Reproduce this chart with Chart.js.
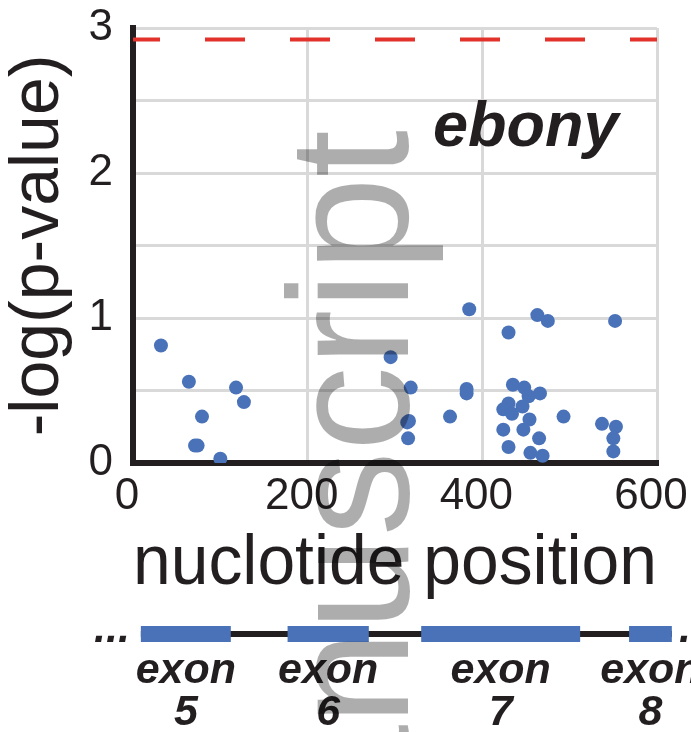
<!DOCTYPE html>
<html lang="en">
<head>
    <meta charset="UTF-8">
    <title>ebony association scan</title>
    <script src="https://cdn.jsdelivr.net/npm/chart.js"></script>
    <style>
        html, body {
            margin: 0;
            padding: 0;
            background: #fff;
        }
        #wrap {
            position: relative;
            width: 691px;
            height: 732px;
            overflow: hidden;
        }
    </style>
</head>
<body>
    <div id="wrap">
        <canvas id="plot" width="691" height="732"></canvas>
    </div>

    <script>
        // SNP positions (nucleotide) and -log(p-value)
        const snpPos = [32, 64, 79, 71, 74, 100, 118, 127,
                        295, 318, 314, 316, 315, 363, 382, 382, 385,
                        430, 463, 475, 552, 435, 448, 453, 466, 430,
                        424, 434, 446, 454, 447, 424, 465, 430, 455,
                        469, 493, 537, 553, 550, 550];
        const snpLogP = [0.81, 0.56, 0.32, 0.12, 0.12, 0.03, 0.52, 0.42,
                         0.73, 0.52, 0.28, 0.29, 0.17, 0.32, 0.51, 0.48, 1.06,
                         0.90, 1.02, 0.98, 0.98, 0.54, 0.52, 0.46, 0.48, 0.41,
                         0.37, 0.34, 0.39, 0.30, 0.23, 0.23, 0.17, 0.11, 0.07,
                         0.05, 0.32, 0.27, 0.25, 0.17, 0.08];
        const threshold = 2.92;
        const geneName = 'ebony';

        // gene model under the axis, in nucleotide units
        const exonNames = ['5', '6', '7', '8'];
        const exonStart = [9, 177, 330, 568];
        const exonEnd = [112, 270, 512, 617];

        const ink = '#231f20';
        const font = '"Liberation Sans", Arial, sans-serif';

        const extras = {
            id: 'extras',
            afterDraw(chart) {
                const ctx = chart.ctx;
                const x = chart.scales.x;
                ctx.save();

                // gene name
                ctx.fillStyle = ink;
                ctx.font = 'italic bold 63px ' + font;
                ctx.textAlign = 'left';
                ctx.textBaseline = 'alphabetic';
                ctx.fillText(geneName, 433, 146);

                // intron line + exons
                const lineY = 634;
                ctx.fillStyle = ink;
                ctx.fillRect(x.getPixelForValue(exonStart[0]), lineY - 3,
                    x.getPixelForValue(exonEnd[exonEnd.length - 1]) - x.getPixelForValue(exonStart[0]), 6);
                ctx.fillStyle = '#4a72b8';
                exonStart.forEach((s, i) => {
                    const a = x.getPixelForValue(s);
                    const b = x.getPixelForValue(exonEnd[i]);
                    ctx.fillRect(a, lineY - 8, b - a, 16);
                });

                ctx.fillStyle = ink;
                ctx.font = 'italic bold 43px ' + font;
                ctx.textAlign = 'left';
                ctx.fillText('...', 94, 642);
                ctx.fillText('...', 679, 642);
                ctx.textAlign = 'center';
                exonNames.forEach((n, i) => {
                    const mid = x.getPixelForValue((exonStart[i] + exonEnd[i]) / 2);
                    ctx.fillText('exon', mid, 683);
                    ctx.fillText(n, mid, 725);
                });

                // PMC watermark
                ctx.translate(408, 130);
                ctx.rotate(-Math.PI / 2);
                ctx.fillStyle = 'rgba(0,0,0,0.32)';
                ctx.font = '170px ' + font;
                ctx.textAlign = 'right';
                ctx.fillText('manuscript', 0, 0);
                ctx.restore();
            }
        };

        const points = snpPos.map((p, i) => ({ x: p, y: snpLogP[i] }));

        new Chart(document.getElementById('plot'), {
            type: 'scatter',
            data: {
                datasets: [
                    {
                        type: 'line',
                        data: [{ x: 0, y: threshold }, { x: 600, y: threshold }],
                        borderColor: '#e2322b',
                        borderWidth: 4,
                        borderDash: [40, 45],
                        borderDashOffset: 13,
                        pointRadius: 0
                    },
                    {
                        data: points,
                        backgroundColor: '#4a72b8',
                        borderWidth: 0,
                        pointRadius: 7,
                        pointHoverRadius: 7
                    }
                ]
            },
            options: {
                responsive: false,
                animation: false,
                events: [],
                layout: { padding: { top: 28, right: 34, bottom: 120, left: 0 } },
                plugins: {
                    legend: { display: false },
                    tooltip: { enabled: false }
                },
                scales: {
                    x: {
                        type: 'linear',
                        min: 0,
                        max: 600,
                        afterFit: s => { s.height = 149; s.paddingLeft = 0; s.paddingRight = 0; },
                        ticks: {
                            stepSize: 200,
                            padding: 12,
                            labelOffset: -6,
                            color: ink,
                            font: { family: font, size: 44, lineHeight: 1 }
                        },
                        grid: { color: '#d9d9d9', lineWidth: 3, drawTicks: false },
                        border: { color: ink, width: 6 },
                        title: {
                            display: true,
                            text: 'nuclotide position',
                            color: ink,
                            padding: { top: 0, bottom: 12 },
                            font: { family: font, size: 70, lineHeight: 1 }
                        }
                    },
                    y: {
                        min: 0,
                        max: 3,
                        afterFit: s => { s.width = 133; s.paddingTop = 0; s.paddingBottom = 0; },
                        ticks: {
                            stepSize: 0.5,
                            padding: 20,
                            color: ink,
                            font: { family: font, size: 44, lineHeight: 1 },
                            callback: v => Number.isInteger(v) ? v : ''
                        },
                        grid: { color: '#d9d9d9', lineWidth: 3, drawTicks: false },
                        border: { color: ink, width: 6 },
                        title: {
                            display: true,
                            text: '-log(p-value)',
                            color: ink,
                            padding: { top: 5, bottom: 0 },
                            font: { family: font, size: 68, lineHeight: 1 }
                        }
                    }
                }
            },
            plugins: [extras]
        });
    </script>
</body>
</html>
